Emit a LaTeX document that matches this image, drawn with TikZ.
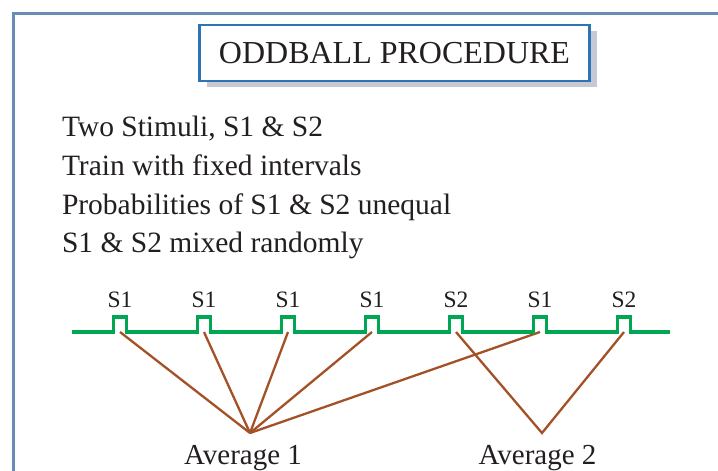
\documentclass[tikz,border=0pt]{standalone}
\usepackage{fontspec}
\setmainfont{Liberation Serif}
\usetikzlibrary{positioning}
\usetikzlibrary{shadows}

\definecolor{framecol}{RGB}{106,139,180}
\definecolor{titleblue}{RGB}{46,116,181}
\definecolor{shadowgray}{RGB}{198,200,210}
\definecolor{traingreen}{RGB}{0,166,81}
\definecolor{linkbrown}{RGB}{163,82,40}
\definecolor{ink}{RGB}{35,31,32}

\begin{document}
\begin{tikzpicture}[x=1pt,y=-1pt,node distance=84pt,
  every node/.style={text=ink,inner sep=0pt,outer sep=0pt},
  titlebox/.style={draw=titleblue,line width=2.5pt,fill=white,minimum width=390pt,minimum height=56pt,
    font=\fontsize{32}{38}\selectfont,
    drop shadow={shadow xshift=7pt,shadow yshift=-6pt,fill=shadowgray,opacity=1}},
  point/.style={anchor=base west,font=\fontsize{29.5}{35}\selectfont},
  pulse/.style={minimum size=0pt},
  stim/.style={font=\fontsize{23.5}{28}\selectfont},
  avg/.style={anchor=base,font=\fontsize{29}{34}\selectfont},
  train/.style={traingreen,line width=3.4pt},
  link/.style={linkbrown,line width=2.3pt}]
  \fill[white] (0,0) rectangle (718,471);
  \useasboundingbox (0,0) rectangle (718,471);
  \draw[framecol,line width=3pt] (13.5,471) -- (13.5,13.5) -- (718,13.5);

  \node[titlebox] (title) at (394.5,53.2) {ODDBALL PROCEDURE};

  \node[point] (t1) at (62,136.7) {Two Stimuli, S1 \& S2};
  \node[point] (t2) at (62,175.5) {Train with fixed intervals};
  \node[point] (t3) at (62,214.2) {Probabilities of S1 \& S2 unequal};
  \node[point] (t4) at (62,252.5) {S1 \& S2 mixed randomly};

  \node[pulse] (p1) at (120,332) {};
  \node[pulse,right of=p1] (p2) {};
  \node[pulse,right of=p2] (p3) {};
  \node[pulse,right of=p3] (p4) {};
  \node[pulse,right of=p4] (p5) {};
  \node[pulse,right of=p5] (p6) {};
  \node[pulse,right of=p6] (p7) {};

  \node[stim,above=24pt of p1] (l1) {S1};
  \node[stim,above=24pt of p2] (l2) {S1};
  \node[stim,above=24pt of p3] (l3) {S1};
  \node[stim,above=24pt of p4] (l4) {S1};
  \node[stim,above=24pt of p5] (l5) {S2};
  \node[stim,above=24pt of p6] (l6) {S1};
  \node[stim,above=24pt of p7] (l7) {S2};

  \coordinate (j1) at (250,433);
  \coordinate (j2) at (542,433);
  \node[avg] (avg1) at (243,464) {Average 1};
  \node[avg] (avg2) at (537.5,464) {Average 2};

  \draw[link](p1)--(j1);
  \draw[link](p2)--(j1);
  \draw[link](p3)--(j1);
  \draw[link](p4)--(j1);
  \draw[link](p6)--(j1);
  \draw[link](p5)--(j2)--(p7);

  \coordinate (tstart) at (72,332);
  \coordinate (tend) at (670,332);
  \draw[train](tstart)
    --([xshift=-6.5pt]p1.center)--++(0,-15)--++(13,0)--++(0,15)
    --([xshift=-6.5pt]p2.center)--++(0,-15)--++(13,0)--++(0,15)
    --([xshift=-6.5pt]p3.center)--++(0,-15)--++(13,0)--++(0,15)
    --([xshift=-6.5pt]p4.center)--++(0,-15)--++(13,0)--++(0,15)
    --([xshift=-6.5pt]p5.center)--++(0,-15)--++(13,0)--++(0,15)
    --([xshift=-6.5pt]p6.center)--++(0,-15)--++(13,0)--++(0,15)
    --([xshift=-6.5pt]p7.center)--++(0,-15)--++(13,0)--++(0,15)
    --(tend);
\end{tikzpicture}
\end{document}
